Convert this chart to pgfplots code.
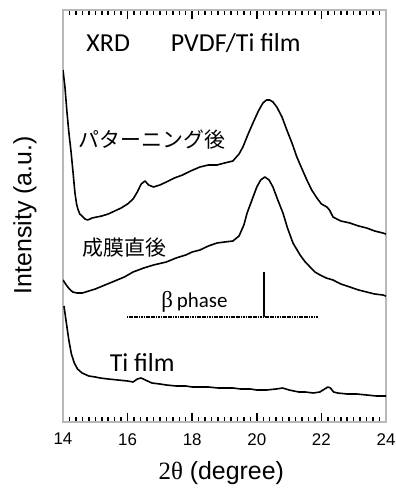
\documentclass[border=0pt]{standalone}
\usepackage{fontspec}
\setmainfont{Liberation Sans}
\newfontfamily\calfont{Carlito}
\newfontfamily\jpfont{Noto Sans CJK JP}
\newfontfamily\serfont{Liberation Serif}
\usepackage{pgfplots}
\pgfplotsset{compat=1.18}
\begin{document}
\begin{tikzpicture}
\path (-63bp,-70bp) rectangle (332bp,422bp);
\begin{axis}[
  at={(0,0)}, anchor=south west,
  scale only axis, width=323bp, height=412bp,
  xmin=14, xmax=24, ymin=0, ymax=412,
  ytick=\empty,
  xtick={14,16,...,24},
  minor x tick num=9,
  tick align=inside,
  major tick length=9bp, minor tick length=5bp,
  xtick style={draw=black, line width=1.5bp},
  every tick/.append style={draw=black, line width=1.5bp},
  axis line style={gray!55, line width=1.2bp},
  xticklabel style={font=\fontsize{17}{20}\selectfont, anchor=north, inner sep=0pt, yshift=-11bp},
  xticklabel={\pgfmathprintnumber[assume math mode=true]{\tick}},
  xlabel={{\serfont 2θ} (degree)},
  xlabel style={font=\fontsize{25}{28}\selectfont, at={(axis description cs:0.49,-0.124)}, anchor=center},
  ylabel={Intensity (a.u.)},
  ylabel style={font=\fontsize{25}{28}\selectfont, at={(axis description cs:-0.118,0.502)}, anchor=center},
]
% after patterning
\addplot[black, no marks, line width=1.6bp, line join=round] coordinates {
(14.00,352)(14.06,335)(14.12,311)(14.18,290)(14.25,270)(14.31,250)(14.37,229)(14.42,218)(14.46,213)(14.52,208)(14.59,206)(14.68,203)(14.77,202)(14.90,204)(15.05,205)(15.20,206)(15.40,208)(15.60,211)(15.80,214)(16.00,218)(16.17,223)(16.30,230)(16.42,238)(16.54,241)(16.65,237)(16.80,235)(17.00,237)(17.20,240)(17.45,244)(17.70,247)(17.95,251)(18.24,255)(18.50,257)(18.77,257)(19.00,259)(19.26,261)(19.45,268)(19.57,275)(19.72,287)(19.88,299)(20.05,311)(20.19,319)(20.30,322)(20.40,322)(20.50,320)(20.62,315)(20.78,305)(20.93,292)(21.10,278)(21.24,265)(21.40,253)(21.55,242)(21.70,232)(21.86,224)(22.00,218)(22.17,215)(22.25,212)(22.36,205)(22.60,201)(22.88,199)(23.15,196)(23.40,194)(23.65,191)(23.90,189)(24.00,188)
};
% as deposited
\addplot[black, no marks, line width=1.6bp, line join=round] coordinates {
(14.00,142)(14.10,137)(14.20,133)(14.30,130)(14.43,129)(14.60,129)(14.80,131)(15.00,133)(15.30,137)(15.60,141)(15.90,145)(16.17,150)(16.50,154)(16.80,157)(17.20,160)(17.50,164)(17.80,167)(18.00,170)(18.24,172)(18.50,176)(18.77,179)(19.00,180)(19.26,181)(19.45,186)(19.60,197)(19.70,209)(19.85,222)(20.00,235)(20.12,242)(20.25,245)(20.38,242)(20.50,235)(20.65,222)(20.81,209)(20.95,194)(21.12,179)(21.34,167)(21.50,160)(21.65,155)(21.80,150)(21.96,147)(22.15,144)(22.36,142)(22.60,138)(22.88,135)(23.15,132)(23.40,130)(23.65,128)(23.90,127)(24.00,126)
};
% Ti film
\addplot[black, no marks, line width=1.6bp, line join=round] coordinates {
(14.03,116)(14.10,100)(14.18,82)(14.26,68)(14.35,59)(14.45,53)(14.59,49)(14.80,46)(15.00,45)(15.15,44)(15.40,43)(15.70,42)(16.00,41)(16.17,40)(16.30,43)(16.42,44)(16.55,42)(16.75,39)(17.00,38)(17.20,37)(17.50,36)(17.80,36)(18.00,35)(18.24,35)(18.50,35)(18.80,34)(19.00,34)(19.26,34)(19.50,33)(19.80,33)(20.00,32)(20.30,32)(20.60,33)(20.80,34)(21.00,32)(21.30,30)(21.50,30)(21.75,29)(21.95,30)(22.10,33)(22.20,35)(22.28,34)(22.38,30)(22.50,29)(22.80,28)(23.10,28)(23.40,27)(23.70,26)(24.00,26)
};
% beta phase reference
\addplot[black, no marks, line width=1.7bp, dash pattern=on 1.2bp off 0.5bp] coordinates {(15.98,105)(21.90,105)};
\addplot[black, no marks, line width=1.6bp] coordinates {(20.22,105)(20.22,150)};
\node[font=\calfont\fontsize{26}{30}\selectfont, anchor=base, inner sep=0pt] at (axis cs:15.4,370) {XRD};
\node[font=\calfont\fontsize{26}{30}\selectfont, anchor=base, inner sep=0pt] at (axis cs:19.35,370) {PVDF/Ti film};
\node[font=\jpfont\fontsize{21}{24}\selectfont, anchor=center, inner sep=0pt] at (axis cs:16.75,282) {パターニング後};
\node[font=\jpfont\fontsize{21}{24}\selectfont, anchor=center, inner sep=0pt] at (axis cs:15.9,174) {成膜直後};
\node[font=\calfont\fontsize{26}{30}\selectfont, anchor=base, inner sep=0pt] at (axis cs:16.45,50) {Ti film};
\node[anchor=base, inner sep=0pt] at (axis cs:18.07,114) {{\serfont\fontsize{23}{26}\selectfont β}\hspace{4bp}{\calfont\fontsize{21}{24}\selectfont phase}};
\end{axis}
\end{tikzpicture}
\end{document}
